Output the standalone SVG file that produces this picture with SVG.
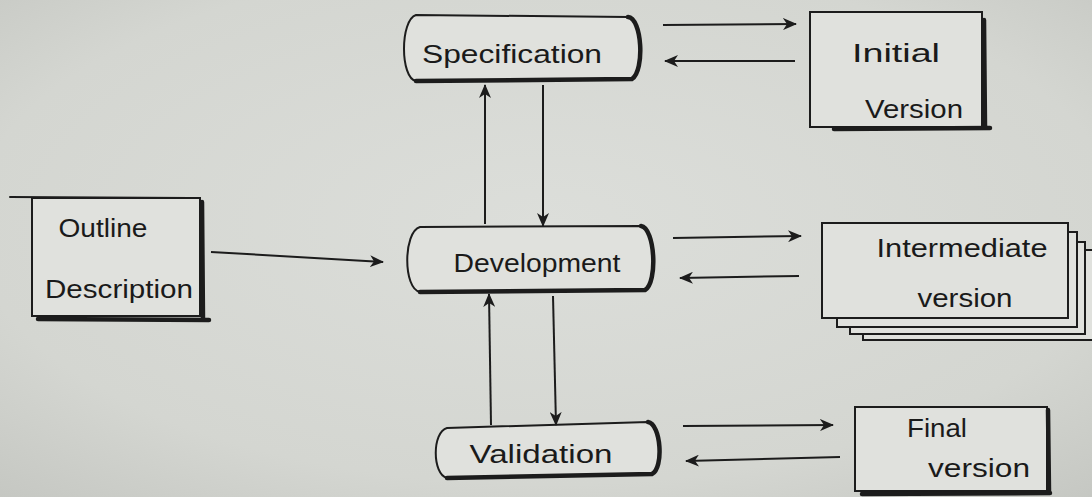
<svg xmlns="http://www.w3.org/2000/svg" width="1092" height="497" viewBox="0 0 1092 497">
  <defs>
    <radialGradient id="paper" cx="50%" cy="45%" r="75%">
      <stop offset="0" stop-color="#dcdeda"/>
      <stop offset="0.7" stop-color="#d4d6d1"/>
      <stop offset="1" stop-color="#c5c7c2"/>
    </radialGradient>
    <marker id="head" viewBox="0 0 14 12" refX="13" refY="6" markerWidth="14" markerHeight="12" markerUnits="userSpaceOnUse" orient="auto">
      <path d="M0,0 L14,6 L0,12 L4,6 Z" fill="#1c1c1c"/>
    </marker>
    <style>
      .ink { fill: none; stroke: #1c1c1c; stroke-width: 2; stroke-linecap: round; stroke-linejoin: round; }
      .heavy { fill: none; stroke: #1c1c1c; stroke-width: 4.5; stroke-linecap: round; }
      .card { fill: #e0e1dd; stroke: #1c1c1c; stroke-width: 2; }
      .label { font-family: "Liberation Sans", "DejaVu Sans", sans-serif; font-size: 25px; fill: #1a1a1a; }
      .arrow { fill: none; stroke: #1c1c1c; stroke-width: 2; marker-end: url(#head); }
    </style>
  </defs>

  <rect width="1092" height="497" fill="url(#paper)"/>

  <!-- process nodes (rounded ends) -->
  <g id="specification">
    <path class="card" d="M416,15 L628,17 C642,18 645,70 632,79 L416,81 C400,78 400,20 416,15 Z"/>
    <path class="heavy" d="M416,81 L632,79 C645,70 642,18 628,17"/>
    <text class="label" x="512" y="63" text-anchor="middle" textLength="180" lengthAdjust="spacingAndGlyphs">Specification</text>
  </g>

  <g id="development">
    <path class="card" d="M420,227 L641,226 C655,228 658,282 645,290 L420,292 C403,289 403,232 420,227 Z"/>
    <path class="heavy" d="M420,292 L645,290 C658,282 655,228 641,226"/>
    <text class="label" x="537" y="272" text-anchor="middle" textLength="167" lengthAdjust="spacingAndGlyphs">Development</text>
  </g>

  <g id="validation">
    <path class="card" d="M447,428 L648,422 C661,424 664,468 652,474 L447,478 C432,474 432,432 447,428 Z"/>
    <path class="heavy" d="M447,478 L652,474 C664,468 661,424 648,422"/>
    <text class="label" x="541" y="463" text-anchor="middle" textLength="143" lengthAdjust="spacingAndGlyphs">Validation</text>
  </g>

  <!-- document boxes -->
  <g id="outline-description">
    <rect class="card" x="32" y="198" width="168" height="118"/>
    <path class="ink" d="M10,197 L190,198"/>
    <path class="heavy" d="M202,202 L203,320 M38,319 L209,320"/>
    <text class="label" x="103" y="237" text-anchor="middle" textLength="89" lengthAdjust="spacingAndGlyphs">Outline</text>
    <text class="label" x="119" y="298" text-anchor="middle" textLength="148" lengthAdjust="spacingAndGlyphs">Description</text>
  </g>

  <g id="initial-version">
    <rect class="card" x="810" y="12" width="172" height="115"/>
    <path class="heavy" d="M984,20 L985,127 M834,129 L990,128"/>
    <text class="label" x="896" y="62" text-anchor="middle" textLength="88" lengthAdjust="spacingAndGlyphs">Initial</text>
    <text class="label" x="914" y="118" text-anchor="middle" textLength="98" lengthAdjust="spacingAndGlyphs">Version</text>
  </g>

  <g id="intermediate-version">
    <rect class="card" x="863" y="250" width="235" height="90"/>
    <rect class="card" x="850" y="242" width="235" height="92"/>
    <rect class="card" x="837" y="232" width="240" height="95"/>
    <rect class="card" x="822" y="223" width="246" height="95"/>
    <text class="label" x="962" y="257" text-anchor="middle" textLength="171" lengthAdjust="spacingAndGlyphs">Intermediate</text>
    <text class="label" x="965" y="307" text-anchor="middle" textLength="95" lengthAdjust="spacingAndGlyphs">version</text>
  </g>

  <g id="final-version">
    <rect class="card" x="855" y="407" width="192" height="84"/>
    <path class="heavy" d="M1048,410 L1049,492 M862,494 L1050,493"/>
    <text class="label" x="937" y="437" text-anchor="middle" textLength="60" lengthAdjust="spacingAndGlyphs">Final</text>
    <text class="label" x="979" y="477" text-anchor="middle" textLength="102" lengthAdjust="spacingAndGlyphs">version</text>
  </g>

  <!-- connectors -->
  <g id="connectors">
    <path class="arrow" d="M663,25 L796,24"/>
    <path class="arrow" d="M795,61 L665,61"/>
    <path class="arrow" d="M485,224 L485,85"/>
    <path class="arrow" d="M543,85 L543,226"/>
    <path class="arrow" d="M211,252 L383,262"/>
    <path class="arrow" d="M673,238 L801,236"/>
    <path class="arrow" d="M799,276 L680,278"/>
    <path class="arrow" d="M491,425 L489,294"/>
    <path class="arrow" d="M553,296 L556,425"/>
    <path class="arrow" d="M683,426 L833,425"/>
    <path class="arrow" d="M840,457 L686,461"/>
  </g>
</svg>
